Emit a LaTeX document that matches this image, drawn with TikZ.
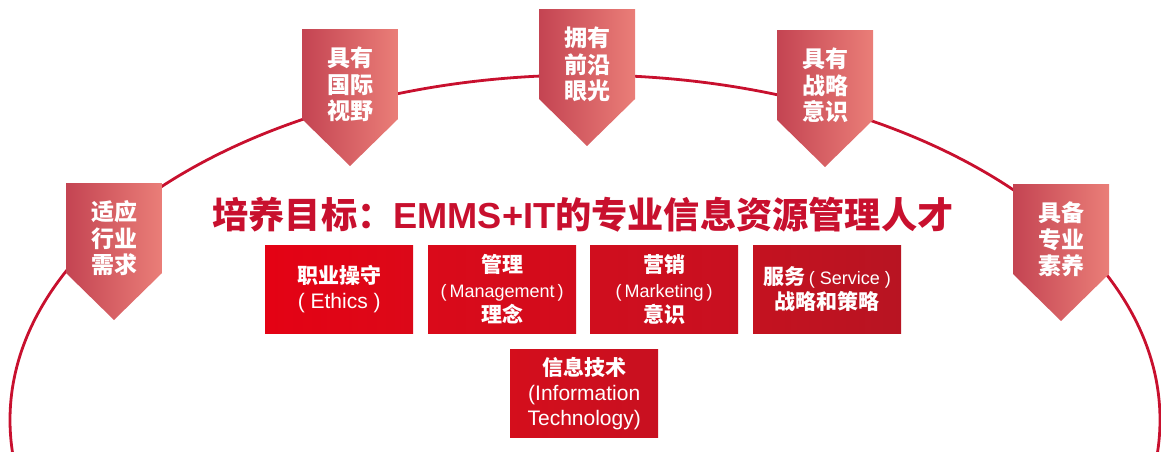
\documentclass[tikz,border=0pt]{standalone}
\usepackage{fontspec}
\setmainfont{Liberation Sans}
\newfontfamily\cjk{Noto Sans CJK SC}
\definecolor{arcred}{RGB}{200,16,46}
\definecolor{pentL}{RGB}{196,68,82}
\definecolor{pentR}{RGB}{234,126,120}
\definecolor{titlered}{RGB}{200,16,46}
\definecolor{bAL}{RGB}{228,2,20}
\definecolor{bAR}{RGB}{220,8,24}
\definecolor{bBL}{RGB}{218,10,26}
\definecolor{bBR}{RGB}{210,12,28}
\definecolor{bCL}{RGB}{208,14,30}
\definecolor{bCR}{RGB}{200,16,32}
\definecolor{bDL}{RGB}{196,18,32}
\definecolor{bDR}{RGB}{184,20,34}
\definecolor{bEL}{RGB}{212,14,28}
\definecolor{bER}{RGB}{200,16,32}
\tikzset{
  penta/.style={left color=pentL, right color=pentR, draw=none},
  ptext/.style={text=white, align=center, inner sep=0pt,
    font=\cjk\bfseries\fontsize{23}{26.5}\selectfont},
  redbox/.style={minimum width=148pt, minimum height=88pt, inner sep=0pt,
    anchor=north west, text=white, align=center, draw=none,
    font=\fontsize{21}{25}\selectfont},
  arcline/.style={draw=arcred, line width=2.8pt},
}
\newcommand{\zh}[1]{{\cjk\bfseries #1}}
\newcommand{\pent}[2]{%
  \path[penta] (#1,#2) -- ++(96,0) -- ++(0,90) -- ++(-48,47) -- ++(-48,-47) -- cycle;}
\begin{document}
\begin{tikzpicture}[x=1pt,y=-1pt]
\useasboundingbox (0,0) rectangle (1161,451);
\begin{scope}
\clip (0,0) rectangle (1161,451);
\draw[arcline] (585,420) ellipse [x radius=575pt, y radius=345pt];
\end{scope}
% pentagons
\pent{66}{183}
\pent{302}{29}
\pent{539}{9}
\pent{777}{30}
\pent{1013}{184}
\node[ptext] (p1) at (114,238.5) {适应\\行业\\需求};
\node[ptext] (p2) at (350,84.5) {具有\\国际\\视野};
\node[ptext] (p3) at (587,64.5) {拥有\\前沿\\眼光};
\node[ptext] (p4) at (825,85.5) {具有\\战略\\意识};
\node[ptext] (p5) at (1061,239.5) {具备\\专业\\素养};
% title
\node[text=titlered, inner sep=0pt, font=\fontsize{36.2}{40}\selectfont] (title) at (583,215)
  {\zh{培养目标：}\textbf{EMMS+IT}\zh{的专业信息资源管理人才}};
% boxes
\node[redbox, left color=bAL, right color=bAR] (b1) at (265,245)
  {\zh{职业操守}\\( Ethics )};
\node[redbox, left color=bBL, right color=bBR] (b2) at (428,245)
  {\zh{管理}\\{\fontsize{18}{25}\selectfont(\,Management\,)}\\\zh{理念}};
\node[redbox, left color=bCL, right color=bCR] (b3) at (590,245)
  {\zh{营销}\\{\fontsize{18}{25}\selectfont(\,Marketing\,)}\\\zh{意识}};
\node[redbox, left color=bDL, right color=bDR] (b4) at (753,245)
  {\zh{服务}\,{\fontsize{18}{25}\selectfont( Service )}\\\zh{战略和策略}};
\node[redbox, left color=bEL, right color=bER] (b5) at (510,349)
  {\zh{信息技术}\\(Information\\Technology)};
\end{tikzpicture}
\end{document}
